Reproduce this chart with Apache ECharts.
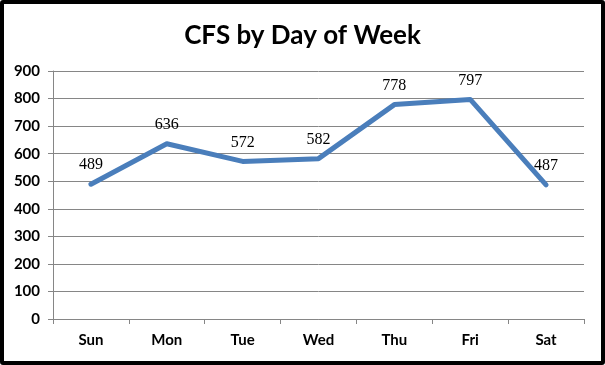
<!DOCTYPE html>
<html><head><meta charset="utf-8">
<script src="https://cdn.jsdelivr.net/npm/echarts@6/dist/echarts.min.js"></script>
<style>
html,body{margin:0;padding:0;background:#fff;}
#frame{position:absolute;left:0;top:0;width:605px;height:365px;box-sizing:border-box;border:4px solid #000;border-radius:3px;}
#chart{position:absolute;left:0;top:0;width:605px;height:365px;}
</style></head>
<body>
<div id="chart"></div>
<div id="frame"></div>
<script>
const titleText = "CFS by Day of Week";
const categories = ["Sun","Mon","Tue","Wed","Thu","Fri","Sat"];
const values = [489,636,572,582,778,797,487];
const chart = echarts.init(document.getElementById('chart'));
chart.setOption({
  animation:false,
  title:{text:titleText,left:'center',top:18,textStyle:{fontFamily:'Lato',fontWeight:'bold',fontSize:26,color:'#000'}},
  grid:{left:53,right:21,top:71,bottom:46},
  xAxis:{type:'category',data:categories,boundaryGap:true,
    axisLine:{lineStyle:{color:'#868686',width:1}},
    axisTick:{show:true,alignWithLabel:false,length:5,lineStyle:{color:'#868686'}},
    axisLabel:{fontFamily:'Lato',fontWeight:'bold',fontSize:15,color:'#000',margin:14}},
  yAxis:{type:'value',min:0,max:900,interval:100,
    axisLine:{show:true,lineStyle:{color:'#868686',width:1}},
    axisTick:{show:true,length:5,lineStyle:{color:'#868686'}},
    splitLine:{lineStyle:{color:'#868686',width:1}},
    axisLabel:{fontFamily:'Lato',fontWeight:'bold',fontSize:15,color:'#000',margin:13}},
  series:[{type:'line',data:values,symbol:'circle',symbolSize:2,showSymbol:true,
    itemStyle:{color:'#4A7EBB'},
    lineStyle:{color:'#4A7EBB',width:5,cap:'round',join:'round'},
    label:{show:true,position:'top',distance:10,fontFamily:'Liberation Serif',fontSize:16,color:'#000'}}]
});
</script>
</body></html>
